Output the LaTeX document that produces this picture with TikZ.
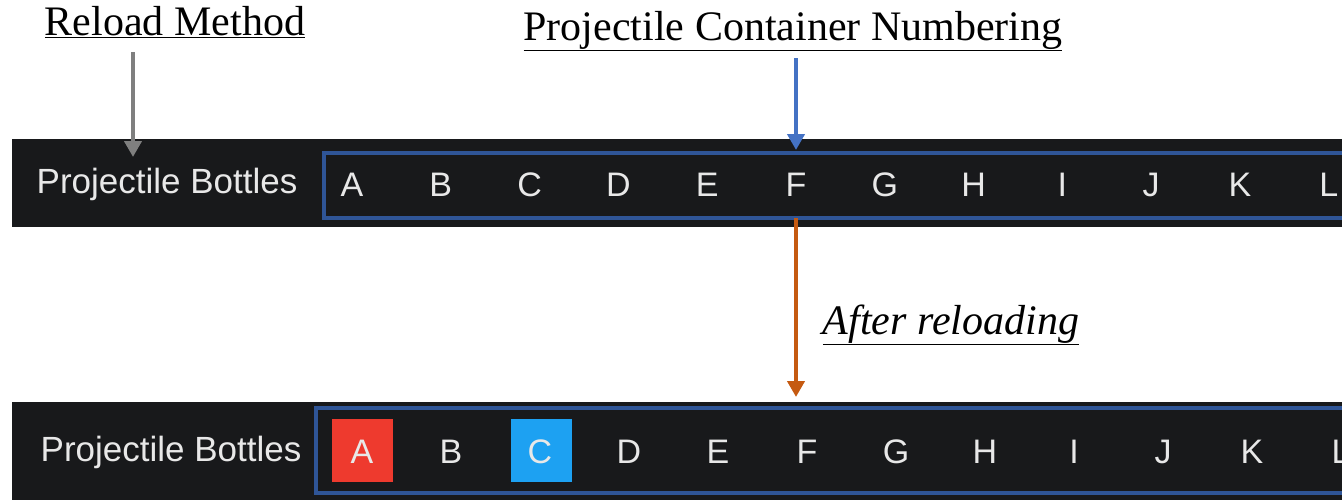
\documentclass[tikz,border=0pt]{standalone}
\usepackage{fontspec}
\setmainfont{Liberation Serif}
\newfontfamily\uifont{Liberation Sans}
\usetikzlibrary{arrows.meta}
\definecolor{barc}{HTML}{18191B}
\definecolor{boxc}{HTML}{2F5597}
\definecolor{uitext}{HTML}{E8E8E8}
\definecolor{grayarrow}{HTML}{7F7F7F}
\definecolor{bluearrow}{HTML}{4472C4}
\definecolor{orangearrow}{HTML}{C55A11}
\definecolor{redsel}{HTML}{EE3A2E}
\definecolor{cyansel}{HTML}{1DA1F2}
\begin{document}
\begin{tikzpicture}[x=1pt,y=-1pt,
  bar/.style={fill=barc, inner sep=0pt, anchor=north west},
  slotbox/.style={draw=boxc, line width=4pt},
  uilabel/.style={text=uitext, font=\uifont\fontsize{35}{38}\selectfont, inner sep=0pt},
  letter/.style={text=uitext, font=\uifont\fontsize{34}{36}\selectfont, inner sep=0pt},
  title/.style={font=\fontsize{42}{46}\selectfont, inner sep=0pt},
  arr/.style={line width=4.5pt, -{Triangle[width=17pt,length=16pt]}},
]
\useasboundingbox (0,0) rectangle (1342,499);
\clip (0,0) rectangle (1342,499);

% bars
\node[bar, minimum width=1340pt, minimum height=88pt] (bar1) at (12,139) {};
\node[bar, minimum width=1340pt, minimum height=100pt] (bar2) at (12,402) {};

% slot boxes
\node[slotbox, inner sep=0pt, anchor=north west, minimum width=1040pt, minimum height=65pt] (box1) at (322,151) {};
\node[slotbox, inner sep=0pt, anchor=north west, minimum width=1040pt, minimum height=85pt] (box2) at (314,406) {};

% selections
\node[fill=redsel, inner sep=0pt, minimum width=61pt, minimum height=63pt] (selA) at (362.5,450.5) {};
\node[fill=cyansel, inner sep=0pt, minimum width=61pt, minimum height=63pt] (selC) at (541.5,450.5) {};

% labels
\node[uilabel] (pb1) at (167,184) {Projectile Bottles};
\node[uilabel] (pb2) at (171,452) {Projectile Bottles};

\foreach \l [count=\i from 0] in {A,B,C,D,E,F,G,H,I,J,K,L} {
  \node[letter] (t\l) at (352+88.8*\i,185) {\l};
  \node[letter] (b\l) at (362+89*\i,452) {\l};
}

% titles
\node[title, anchor=base] (reload) at (175,35) {\underline{Reload Method}};
\node[title, anchor=base] (numbering) at (793,40) {\underline{Projectile Container Numbering}};
\node[title, anchor=base] (after) at (951,334) {\underline{\itshape After reloading}};

% arrows
\coordinate (g1) at (133,52);
\coordinate (g2) at (133,157);
\coordinate (bl1) at (796,58);
\coordinate (bl2) at (796,150);
\coordinate (o1) at (796,218);
\coordinate (o2) at (796,397);
\draw[arr, grayarrow] (g1) -- (g2);
\draw[arr, bluearrow] (bl1) -- (bl2);
\draw[arr, orangearrow] (o1) -- (o2);
\end{tikzpicture}
\end{document}
